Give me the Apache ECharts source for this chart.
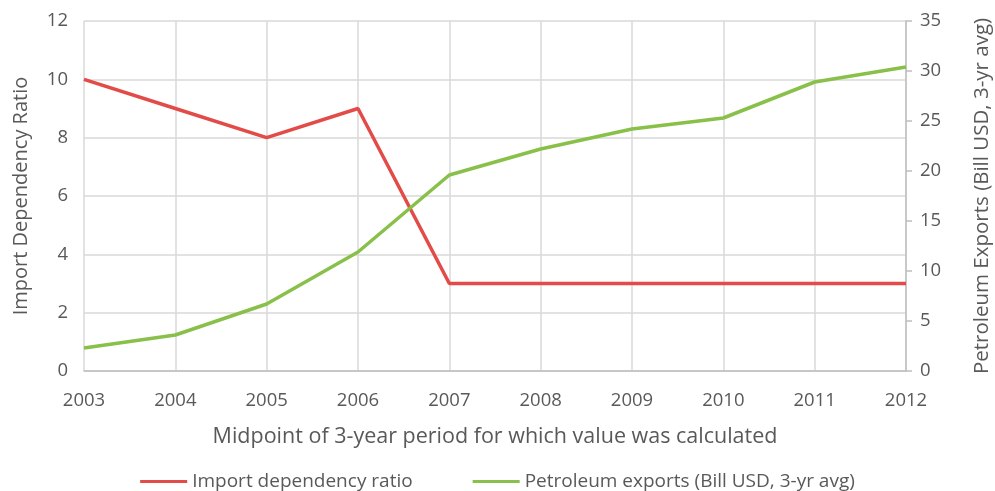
<!DOCTYPE html>
<html><head><meta charset="utf-8">
<script src="https://cdn.jsdelivr.net/npm/echarts@6/dist/echarts.min.js"></script>
<style>html,body{margin:0;padding:0;background:#fff}#c{width:995px;height:491px}</style>
</head><body><div id="c"></div>
<script>
const years = ['2003','2004','2005','2006','2007','2008','2009','2010','2011','2012'];
const importRatio = [10, 9, 8, 9, 3, 3, 3, 3, 3, 3];
const petroleumExports = [2.3, 3.6, 6.7, 11.9, 19.6, 22.2, 24.2, 25.3, 28.9, 30.4];
const leftTicks = {min: 0, max: 12, interval: 2};
const rightTicks = {min: 0, max: 35, interval: 5};

const FONT = 'Open Sans';
const TXT = '#595959';
const chart = echarts.init(document.getElementById('c'));
chart.setOption({
  animation: false,
  textStyle: {fontFamily: FONT},
  grid: {left: 84, right: 89, top: 21, bottom: 120, containLabel: false, outerBoundsMode: 'none'},
  legend: {
    top: 467, left: 'center',
    itemWidth: 47, itemHeight: 3, itemGap: 60,
    icon: 'rect',
    textStyle: {color: TXT, fontSize: 19, fontFamily: FONT},
    data: ['Import dependency ratio', 'Petroleum exports (Bill USD, 3-yr avg)']
  },
  xAxis: {
    type: 'category', data: years, boundaryGap: false,
    name: 'Midpoint of 3-year period for which value was calculated',
    nameLocation: 'middle', nameGap: 55,
    nameTextStyle: {color: TXT, fontSize: 21.5, fontFamily: FONT},
    axisLine: {lineStyle: {color: '#bfbfbf', width: 1.5}},
    axisTick: {show: false},
    axisLabel: {color: TXT, fontSize: 18.5, margin: 20, fontFamily: FONT},
    splitLine: {show: true, lineStyle: {color: '#d9d9d9', width: 1.5}}
  },
  yAxis: [{
    type: 'value', min: leftTicks.min, max: leftTicks.max, interval: leftTicks.interval,
    name: 'Import Dependency Ratio', nameLocation: 'middle', nameGap: 53,
    nameTextStyle: {color: TXT, fontSize: 20, fontFamily: FONT},
    axisLine: {show: false}, axisTick: {show: false},
    axisLabel: {color: TXT, fontSize: 18.5, margin: 16, fontFamily: FONT},
    splitLine: {show: true, lineStyle: {color: '#d9d9d9', width: 1.5}}
  }, {
    type: 'value', min: rightTicks.min, max: rightTicks.max, interval: rightTicks.interval,
    name: 'Petroleum Exports (Bill USD, 3-yr avg)', nameLocation: 'middle', nameGap: 66,
    nameRotate: 90,
    nameTextStyle: {color: TXT, fontSize: 20.5, fontFamily: FONT},
    axisLine: {show: true, lineStyle: {color: '#bfbfbf', width: 1.5}},
    axisTick: {show: true, length: 6, lineStyle: {color: '#bfbfbf', width: 1.5}},
    axisLabel: {color: TXT, fontSize: 18.5, margin: 14, fontFamily: FONT},
    splitLine: {show: false}
  }],
  series: [{
    name: 'Import dependency ratio', type: 'line', yAxisIndex: 0,
    data: importRatio, symbol: 'none',
    lineStyle: {color: '#e24b47', width: 3.5}, itemStyle: {color: '#e24b47'}
  }, {
    name: 'Petroleum exports (Bill USD, 3-yr avg)', type: 'line', yAxisIndex: 1,
    data: petroleumExports, symbol: 'none',
    lineStyle: {color: '#88c04a', width: 3.5}, itemStyle: {color: '#88c04a'}
  }]
});
</script></body></html>
